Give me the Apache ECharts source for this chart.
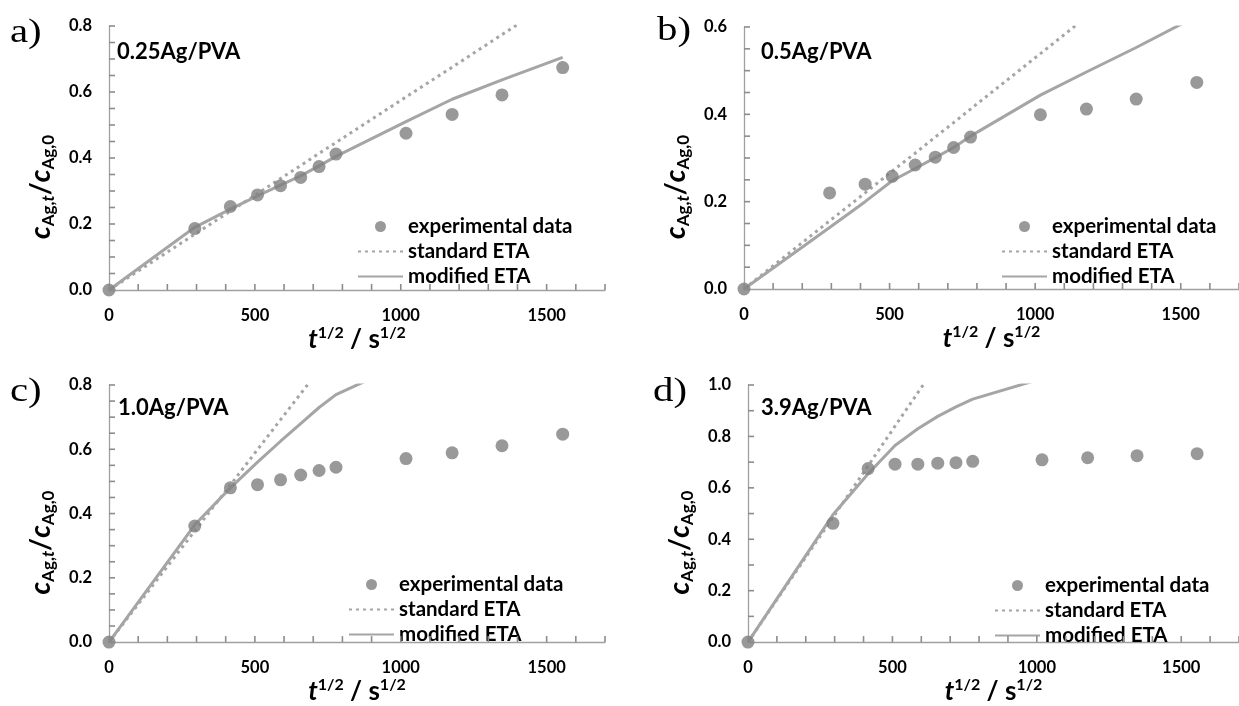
<!DOCTYPE html>
<html>
<head>
<meta charset="utf-8">
<script src="https://cdn.jsdelivr.net/npm/echarts@6/dist/echarts.min.js"></script>
<style>html,body{margin:0;padding:0;background:#fff}#c{width:1239px;height:706px}</style>
</head>
<body>
<div id="c"></div>
<script>
// square root of time, s^1/2 (shared by all panels)
const tSqrt = [0, 294, 416, 509, 588, 657, 720, 778, 1018, 1176, 1347, 1555];

// panel a) 0.25Ag/PVA
const expA = [0, 0.186, 0.253, 0.288, 0.316, 0.341, 0.374, 0.412, 0.475, 0.532, 0.591, 0.674];
const stdA = [0, 0.169, 0.239, 0.292, 0.338, 0.377, 0.414, 0.447, 0.585, 0.675, 0.774, 0.893];
const modA = [0, 0.19, 0.245, 0.285, 0.318, 0.346, 0.376, 0.405, 0.51, 0.578, 0.637, 0.705];
// panel b) 0.5Ag/PVA
const expB = [0, 0.220, 0.240, 0.258, 0.284, 0.302, 0.324, 0.348, 0.399, 0.412, 0.435, 0.473];
const stdB = [0, 0.156, 0.22, 0.27, 0.311, 0.348, 0.381, 0.412, 0.539, 0.623];
const modB = [0, 0.141, 0.2, 0.248, 0.276, 0.301, 0.324, 0.35, 0.444, 0.497, 0.553, 0.625];
// panel c) 1.0Ag/PVA
const expC = [0, 0.361, 0.480, 0.490, 0.505, 0.520, 0.534, 0.544, 0.571, 0.589, 0.611, 0.647];
const stdC = [0, 0.346, 0.489, 0.599, 0.692, 0.773, 0.847];
const modC = [0, 0.365, 0.48, 0.56, 0.625, 0.68, 0.73, 0.77, 0.87];
// panel d) 3.9Ag/PVA
const expD = [0, 0.462, 0.675, 0.692, 0.692, 0.696, 0.698, 0.703, 0.709, 0.717, 0.725, 0.733];
const stdD = [0, 0.485, 0.686, 0.84, 0.970, 1.084];
const modD = [0, 0.495, 0.655, 0.765, 0.83, 0.878, 0.915, 0.945, 1.025];

// axis tick positions (minor + major)
const xTicks = [0, 100, 200, 300, 400, 500, 600, 700, 800, 900, 1000, 1100, 1200, 1300, 1400, 1500, 1600, 1700];
const yTicks08 = [0, 0.05, 0.1, 0.15, 0.2, 0.25, 0.3, 0.35, 0.4, 0.45, 0.5, 0.55, 0.6, 0.65, 0.7, 0.75, 0.8];
const yTicks06 = [0, 0.05, 0.1, 0.15, 0.2, 0.25, 0.3, 0.35, 0.4, 0.45, 0.5, 0.55, 0.6];
const yTicks10 = [0, 0.1, 0.2, 0.3, 0.4, 0.5, 0.6, 0.7, 0.8, 0.9, 1.0];

const panelLetters = ['a)', 'b)', 'c)', 'd)'];
const panelNames = ['0.25Ag/PVA', '0.5Ag/PVA', '1.0Ag/PVA', '3.9Ag/PVA'];
const yMax = [0.8, 0.6, 0.8, 1.0];
const yTicksAll = [yTicks08, yTicks06, yTicks08, yTicks10];
const xMax = 1700;
const seriesNames = ['experimental data', 'standard ETA', 'modified ETA'];

const expAll = [expA, expB, expC, expD];
const stdAll = [stdA, stdB, stdC, stdD];
const modAll = [modA, modB, modC, modD];

// layout (pixels)
const grids = [
  {left: 109, top: 26, width: 496, height: 264},
  {left: 744, top: 27, width: 504, height: 262},
  {left: 109, top: 385, width: 496, height: 264},
  {left: 748, top: 385, width: 514, height: 265}
];
const legendPos = [
  {left: 352, top: 211},
  {left: 996, top: 211},
  {left: 343, top: 569},
  {left: 989, top: 570}
];
const letterPos = [[10, 33], [657, 31], [10, 392], [653, 392]];
const namePos = [[117, 52], [761, 52], [118, 408], [761, 408]];

const FONT = 'Lato';
const GRAY_AX = '#a0a0a0';
const TICK_COL = '#8c8c8c';
const PT = '#7f7f7f';
const LN = '#a5a5a5';
const TICK_LEN = 6;

const pairs = (xs, ys) => ys.map((v, i) => [xs[i], v]);
const isMult = (v, s) => Math.abs(v / s - Math.round(v / s)) < 1e-6;

const option = {
  animation: false,
  backgroundColor: '#fff',
  textStyle: {fontFamily: FONT},
  grid: grids.map(g => Object.assign({containLabel: false}, g)),
  xAxis: grids.map((g, i) => ({
    type: 'value', gridIndex: i, min: 0, max: xMax, interval: 100,
    axisLine: {show: true, onZero: false, lineStyle: {color: GRAY_AX, width: 1.3}},
    axisTick: {show: false},
    splitLine: {show: false},
    axisLabel: {
      show: true, margin: 17, color: '#000', fontFamily: FONT, fontWeight: 'bold', fontSize: 16.5,
      formatter: v => (isMult(v, 500) ? String(v) : ''),
      showMaxLabel: false, hideOverlap: false
    },
    name: '{ti|t}{sup|1/2}{n| / s}{sup|1/2}',
    nameLocation: 'middle', nameGap: 26,
    nameTextStyle: {
      rich: {
        ti: {fontFamily: FONT, fontWeight: 'bold', fontStyle: 'italic', fontSize: 26, lineHeight: 30, color: '#000'},
        n: {fontFamily: FONT, fontWeight: 'bold', fontSize: 26, lineHeight: 30, color: '#000'},
        sup: {fontFamily: FONT, fontWeight: 'bold', fontSize: 16, lineHeight: 16, verticalAlign: 'top', color: '#000'}
      }
    }
  })),
  yAxis: grids.map((g, i) => ({
    type: 'value', gridIndex: i, min: 0, max: yMax[i], interval: 0.1,
    axisLine: {show: true, onZero: false, lineStyle: {color: GRAY_AX, width: 1.3}},
    axisTick: {show: false},
    splitLine: {show: false},
    axisLabel: {
      show: true, margin: 17, color: '#000', fontFamily: FONT, fontWeight: 'bold', fontSize: 16.5,
      formatter: v => (isMult(v, 0.2) ? v.toFixed(1) : ''), hideOverlap: false
    },
    name: '{ci|c}{sub|Ag,}{sit|t}{n|/}{ci|c}{sub|Ag,0}',
    nameLocation: 'middle', nameGap: 52, nameRotate: 90,
    nameTextStyle: {
      padding: [0, 58, 0, 0],
      rich: {
        ci: {fontFamily: FONT, fontWeight: 'bold', fontStyle: 'italic', fontSize: 28, lineHeight: 32, color: '#000'},
        n: {fontFamily: FONT, fontWeight: 'bold', fontSize: 28, lineHeight: 32, color: '#000'},
        sub: {fontFamily: FONT, fontWeight: 'bold', fontSize: 17, lineHeight: 17, verticalAlign: 'bottom', color: '#000'},
        sit: {fontFamily: FONT, fontWeight: 'bold', fontStyle: 'italic', fontSize: 17, lineHeight: 17, verticalAlign: 'bottom', color: '#000'}
      }
    }
  })),
  legend: legendPos.map(p => ({
    left: p.left, top: p.top, orient: 'vertical',
    itemWidth: 45, itemHeight: 11, itemGap: 4,
    textStyle: {fontFamily: FONT, fontWeight: 'bold', fontSize: 20.5, color: '#000'},
    data: seriesNames,
    selectedMode: false
  })),
  series: [],
  graphic: []
};

// inward-pointing axis ticks, placed through the axes' own scales
function tickSeries(i, dir, values) {
  return {
    type: 'custom', xAxisIndex: i, yAxisIndex: i, silent: true, clip: false, z: 4,
    data: values.map(v => (dir === 'x' ? [v, 0] : [0, v])),
    encode: {x: 0, y: 1},
    renderItem: (params, api) => {
      const p = api.coord([api.value(0), api.value(1)]);
      const shape = dir === 'x'
        ? {x1: p[0], y1: p[1], x2: p[0], y2: p[1] - TICK_LEN}
        : {x1: p[0], y1: p[1], x2: p[0] + TICK_LEN, y2: p[1]};
      return {type: 'line', shape: shape, style: {stroke: TICK_COL, lineWidth: 1.6}};
    }
  };
}

for (let i = 0; i < 4; i++) {
  option.series.push({
    name: seriesNames[1], type: 'line', xAxisIndex: i, yAxisIndex: i,
    data: pairs(tSqrt, stdAll[i]), symbol: 'none', showSymbol: false, clip: true, z: 2,
    lineStyle: {color: LN, width: 3, type: [3, 4]}, itemStyle: {color: 'rgba(0,0,0,0)'}
  });
  option.series.push({
    name: seriesNames[2], type: 'line', xAxisIndex: i, yAxisIndex: i,
    data: pairs(tSqrt, modAll[i]), symbol: 'none', showSymbol: false, clip: true, z: 2,
    lineStyle: {color: LN, width: 3, type: 'solid'}, itemStyle: {color: 'rgba(0,0,0,0)'}
  });
  option.series.push({
    name: seriesNames[0], type: 'scatter', xAxisIndex: i, yAxisIndex: i,
    data: pairs(tSqrt, expAll[i]), symbol: 'circle', symbolSize: 13, z: 3,
    itemStyle: {color: PT}
  });
  option.series.push(tickSeries(i, 'x', xTicks));
  option.series.push(tickSeries(i, 'y', yTicksAll[i]));
  option.graphic.push({
    type: 'text', x: letterPos[i][0], y: letterPos[i][1], scaleX: 1.2,
    style: {text: panelLetters[i], font: '34px "Liberation Serif"', fill: '#000', textVerticalAlign: 'middle'}
  });
  option.graphic.push({
    type: 'text', x: namePos[i][0], y: namePos[i][1],
    style: {text: panelNames[i], font: 'bold 22px Lato', fill: '#000', textVerticalAlign: 'middle'}
  });
}

const chart = echarts.init(document.getElementById('c'), null, {renderer: 'canvas'});
chart.setOption(option);
</script>
</body>
</html>
